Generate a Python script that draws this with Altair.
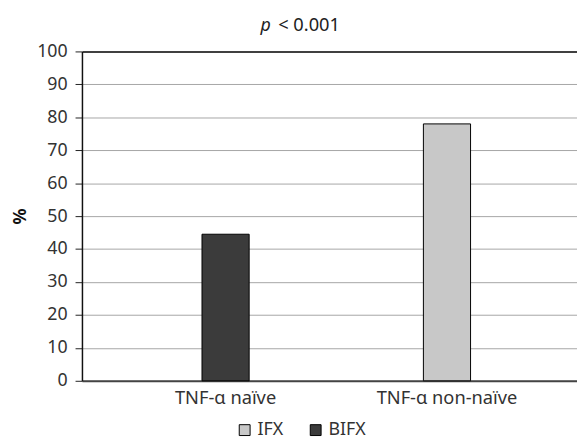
import altair as alt
import pandas as pd

categories = ["TNF-\u03b1 na\u00efve", "TNF-\u03b1 non-na\u00efve"]
groups = ["BIFX", "IFX"]
values = [44.5, 78.0]
legend_order = ["IFX", "BIFX"]
legend_colors = ["#c8c8c8", "#3b3b3b"]
y_ticks = list(range(0, 101, 10))
title_p = "p"
title_rest = "< 0.001"

df = pd.DataFrame({"cat": categories, "grp": groups, "val": values})
FONT = "Noto Sans"

bars = alt.Chart(df).mark_bar(stroke="black", strokeWidth=1).encode(
    x=alt.X("cat:N", sort=categories, title=None,
            scale=alt.Scale(paddingInner=0.787, paddingOuter=0.5115, align=0.530, round=False),
            axis=alt.Axis(labelAngle=0, ticks=False, grid=False, labelFontSize=18.5,
                          labelColor="#333333", labelFont=FONT, labelPadding=8,
                          domainColor="#444444", domainWidth=2)),
    y=alt.Y("val:Q", title="%",
            scale=alt.Scale(domain=[0, 100], nice=False),
            axis=alt.Axis(values=y_ticks, grid=True,
                          gridColor={"condition": {"test": "datum.value === 100", "value": "#000000"}, "value": "#a6a6a6"},
                          gridWidth={"condition": {"test": "datum.value === 100", "value": 1.5}, "value": 1},
                          tickSize=7, tickColor="#222222", labelPadding=8,
                          labelFontSize=18, labelColor="#333333", labelFont=FONT,
                          domainColor="#111111", domainWidth=1.5,
                          titleFontSize=18, titleFontWeight="bold", titleFont=FONT,
                          titleColor="#111111", titleX=-62, titleBaseline="middle", titleAngle=-90)),
    color=alt.Color("grp:N", scale=alt.Scale(domain=legend_order, range=legend_colors),
                    legend=alt.Legend(title=None, orient="none", legendX=156, legendY=375,
                                      direction="horizontal", symbolType="square",
                                      symbolSize=121, symbolStrokeColor="black",
                                      symbolStrokeWidth=1, labelFontSize=18,
                                      labelFont=FONT, labelColor="#333333",
                                      columnPadding=24, labelOffset=4, symbolOpacity=1)),
)

tp = alt.Chart(pd.DataFrame({"t": [title_p]})).mark_text(
    font=FONT, fontSize=18, fontStyle="italic", align="left", baseline="alphabetic",
    color="#222222").encode(text="t:N", x=alt.value(181), y=alt.value(-21))
tr = alt.Chart(pd.DataFrame({"t": [title_rest]})).mark_text(
    font=FONT, fontSize=18.5, align="left", baseline="alphabetic",
    color="#222222").encode(text="t:N", x=alt.value(199), y=alt.value(-21))

chart = alt.layer(bars, tp, tr).properties(
    width=502, height=334,
    autosize=alt.AutoSizeParams(type="none"),
    padding={"left": 75, "top": 41, "right": 0, "bottom": 58},
).configure_view(stroke=None)

chart.save("out.html", embed_options={"renderer": "svg", "actions": False})
